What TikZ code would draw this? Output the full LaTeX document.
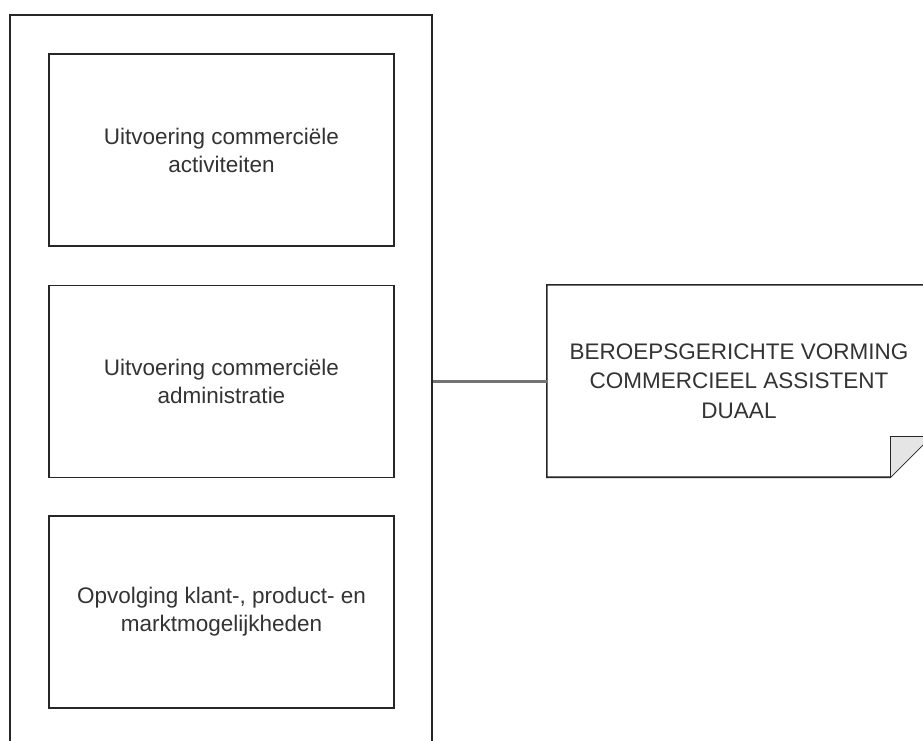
\documentclass[tikz,border=0pt]{standalone}
\usepackage{fontspec}
\setmainfont{Liberation Sans}
\usetikzlibrary{calc}

\tikzset{
  box/.style={draw=black!85, line width=1.6pt, minimum width=345pt, minimum height=192pt, inner sep=0pt, align=center, text=black!80, font=\fontsize{22.5}{28}\selectfont},
  notebox/.style={minimum width=384pt, minimum height=192pt, inner sep=0pt, align=center, text=black!80, font=\fontsize{22.5}{29.5}\selectfont},
  link/.style={draw=black!55, line width=3pt},
  edge/.style={draw=black!85, line width=1.6pt}
}

\begin{document}
\begin{tikzpicture}[x=1pt,y=-1pt]
      \useasboundingbox (0,0) rectangle (923,740);
      \clip (0,0) rectangle (923,740);
      \fill[white] (0,0) rectangle (923,740);
      % outer container
      \node[box, minimum width=422pt, minimum height=760pt] (outer) at (221,395) {};
      % inner boxes
      \node[box] (act) at (221.5,150) {Uitvoering commerciële\\activiteiten};
      \node[box] (adm) at (221.5,381.5) {Uitvoering commerciële\\administratie};
      \node[box] (opv) at (221.5,612) {Opvolging klant-, product- en\\marktmogelijkheden};
      % note with folded corner
      \node[notebox] (note) at (739,381) {BEROEPSGERICHTE VORMING\\COMMERCIEEL ASSISTENT\\DUAAL};
      \draw[edge] (note.north west) -- (note.north east) -- ($(note.south east)+(0,-41)$)
        -- ($(note.south east)+(-41,0)$) -- (note.south west) -- cycle;
      \filldraw[edge, fill=black!10, line width=1.2pt] ($(note.south east)+(-41,0)$)
        -- ($(note.south east)+(-41,-41)$) -- ($(note.south east)+(0,-41)$);
      % connector
      \draw[link] (outer.east |- note.west) -- (note.west);
    \end{tikzpicture}
\end{document}
